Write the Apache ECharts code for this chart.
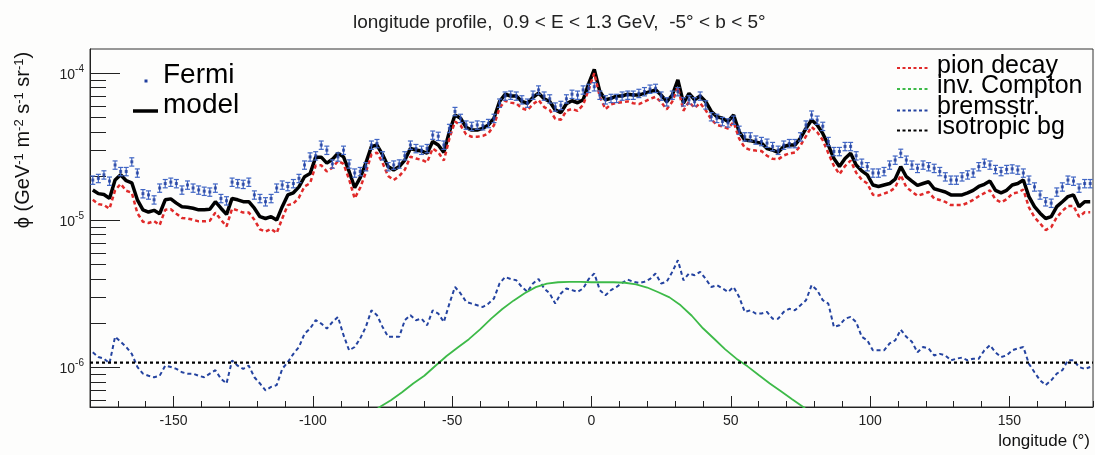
<!DOCTYPE html>
<html>
<head>
<meta charset="utf-8">
<script src="https://cdn.jsdelivr.net/npm/echarts@6.0.0/dist/echarts.min.js"></script>
<style>
  html, body { margin: 0; padding: 0; background: #fdfdfc; }
  #chart { width: 1095px; height: 455px; }
</style>
</head>
<body>
<div id="chart"></div>
<script>
// All intensities below are in units of 1e-6 GeV^-1 m^-2 s^-1 sr^-1.
const UNIT = 1e-6;

// Bin centres in galactic longitude (degrees)
const longitude = [
  -179,-177,-175,-173,-171,-169,-167,-165,-163,-161,
  -159,-157,-155,-153,-151,-149,-147,-145,-143,-141,
  -139,-137,-135,-133,-131,-129,-127,-125,-123,-121,
  -119,-117,-115,-113,-111,-109,-107,-105,-103,-101,
  -99,-97,-95,-93,-91,-89,-87,-85,-83,-81,
  -79,-77,-75,-73,-71,-69,-67,-65,-63,-61,
  -59,-57,-55,-53,-51,-49,-47,-45,-43,-41,
  -39,-37,-35,-33,-31,-29,-27,-25,-23,-21,
  -19,-17,-15,-13,-11,-9,-7,-5,-3,-1,
  1,3,5,7,9,11,13,15,17,19,
  21,23,25,27,29,31,33,35,37,39,
  41,43,45,47,49,51,53,55,57,59,
  61,63,65,67,69,71,73,75,77,79,
  81,83,85,87,89,91,93,95,97,99,
  101,103,105,107,109,111,113,115,117,119,
  121,123,125,127,129,131,133,135,137,139,
  141,143,145,147,149,151,153,155,157,159,
  161,163,165,167,169,171,173,175,177,179
];

// Fermi-LAT measured intensity
const fermi = [
  18.8,19.3,20.4,18.5,23.8,21.5,21.5,25.0,21.0,15.2,
  14.9,13.8,16.6,17.8,18.2,17.8,16.1,17.4,16.6,16.1,
  15.8,15.6,16.6,14.1,13.6,18.2,17.8,17.6,18.2,14.9,
  14.1,13.4,14.1,16.6,17.4,17.0,17.8,19.3,23.8,27.0,
  27.5,32.5,30.0,24.2,27.0,30.0,24.2,21.0,21.5,23.2,
  32.5,33.3,27.5,23.2,23.8,24.2,27.5,32.5,30.8,30.0,
  30.8,38.0,37.3,32.5,42.2,55.0,49.4,44.5,43.6,44.5,
  44.0,45.6,49.4,62.7,70.0,71.0,70.0,66.0,62.7,71.0,
  77.0,70.0,67.0,59.0,60.5,67.0,72.0,71.0,77.0,79.0,
  81.0,71.0,66.0,67.5,67.5,70.0,71.0,71.0,73.0,75.0,
  78.0,79.0,70.0,64.0,71.0,75.0,64.0,66.0,64.0,70.0,
  61.0,50.7,49.4,47.0,46.0,48.0,41.0,37.0,37.0,35.2,
  34.4,33.5,31.8,30.0,32.5,33.3,33.3,37.0,44.5,52.0,
  48.0,43.6,34.4,29.4,29.4,31.8,31.8,27.5,24.5,23.2,
  21.0,21.0,21.5,23.8,25.7,28.6,25.7,23.8,22.6,23.8,
  23.2,22.6,21.5,19.8,18.8,18.8,19.8,20.4,21.0,23.2,
  24.5,23.8,22.2,21.5,22.2,22.4,22.0,21.0,18.8,16.9,
  14.9,13.4,13.1,15.6,16.9,18.8,18.5,16.6,17.8,17.8
];
// relative size of the Fermi error bars
const fermiRelErr = 0.065;

// total model
const model = [
  16.1,15.2,15.0,14.1,18.8,20.4,18.6,18.0,13.8,11.8,
  11.4,11.7,11.1,13.8,14.0,13.1,12.4,12.3,12.1,11.8,
  11.8,11.9,13.4,12.1,11.0,14.1,13.8,13.4,13.4,12.1,
  10.6,10.3,10.6,10.05,12.4,14.9,15.4,16.9,19.8,20.8,
  26.9,26.9,24.5,26.0,28.6,27.0,21.5,16.7,19.5,24.5,
  31.7,32.5,28.0,23.2,22.0,23.2,25.7,30.8,30.1,29.6,
  28.6,34.4,32.5,29.0,40.0,52.0,49.4,42.8,41.1,41.1,
  42.2,44.5,49.4,64.2,71.9,70.0,70.0,64.2,62.5,68.5,
  73.2,67.0,64.2,56.3,54.0,62.0,65.0,63.0,66.0,85.0,
  106,75,66,67.5,70,70,72,71,71,73,
  75,77,71,64,71,90,62.7,73,66,70,
  64,55,50.7,49.4,47,52,40,35.2,34.8,34,
  33.5,30.8,30,29,31.8,32.5,32.5,36.2,42.2,48.1,
  44.5,39,32.5,26.3,23.2,26.3,28.6,23.8,21.7,20.4,
  17.4,17.0,17.4,17.8,19.1,23.2,19.8,18.5,17.3,17.8,
  18.3,16.4,16.0,15.6,14.9,14.9,14.9,15.4,16.0,17.0,
  17.6,18.5,16.0,15.4,16.0,17.4,17.8,18.8,14.5,12.4,
  11.2,10.3,10.6,12.4,13.4,14.5,14.9,12.4,13.4,13.4
];

// pion-decay component
const pionDecay = [
  13.8,12.9,12.7,12.0,16.0,17.7,15.9,15.4,11.2,9.8,
  9.6,9.9,9.3,11.8,11.9,11.1,10.4,10.3,10.1,9.85,
  9.85,9.95,11.3,10.1,9.1,12.0,11.7,11.3,11.3,10.1,
  8.7,8.4,8.75,8.2,10.3,12.7,13.0,14.3,17.0,17.9,
  23.6,23.7,21.5,22.8,25.3,24.2,19.0,14.1,16.7,21.2,
  28.0,28.9,24.6,20.0,18.8,20.0,22.1,27.1,26.3,25.8,
  24.8,30.8,29.0,25.5,36.0,47.0,44.3,38.4,37.0,37.0,
  37.5,39.0,44.3,58.0,65.0,63.1,62.3,57.7,56.1,61.5,
  65.7,58.9,56.2,49.0,48.3,55.6,57.1,55.5,60.9,77.5,
  100,69,57,61.5,62.8,63.5,64.3,62.5,61.7,64.2,
  66.8,69.1,63.5,56.8,64.1,80.5,55.6,64.0,58.0,62.6,
  56.0,48.4,44.5,43.5,42.1,46.6,35.9,31.2,30.1,29.8,
  29.6,27.5,26.2,26.0,27.6,28.5,28.9,32.2,37.4,43.2,
  39.8,35.1,28.6,23.5,20.6,23.4,25.5,21.1,18.9,17.8,
  14.95,14.75,15.2,15.7,16.7,20.3,16.8,15.7,14.7,15.1,
  15.6,14.1,13.75,13.35,12.7,12.7,12.7,13.15,13.8,14.6,
  15.3,16.0,13.9,13.25,13.9,15.2,15.5,16.2,12.25,10.5,
  9.55,8.6,9.0,10.5,11.6,12.5,12.55,10.6,11.35,11.35
];

// bremsstrahlung component
const bremsstrahlung = [
  1.27,1.18,1.15,1.07,1.62,1.50,1.38,1.24,1.01,0.91,
  0.88,0.86,0.88,1.03,1.01,0.98,0.93,0.91,0.91,0.88,
  0.86,0.91,0.96,0.84,0.78,1.12,1.03,0.98,1.03,0.86,
  0.78,0.70,0.74,0.76,0.98,1.09,1.24,1.38,1.70,1.84,
  2.10,1.99,1.84,2.04,2.21,1.66,1.31,1.38,1.58,1.89,
  2.45,2.27,1.89,1.62,1.62,1.62,2.10,2.27,2.10,2.15,
  1.94,2.45,2.33,2.04,2.72,3.53,3.19,2.80,2.72,2.65,
  2.58,2.72,2.95,3.73,4.13,4.00,3.92,3.53,3.27,3.73,
  4.00,3.45,3.19,2.72,3.19,3.45,3.36,3.27,3.45,4.00,
  4.36,3.36,3.10,3.36,3.53,3.76,3.96,3.83,3.76,3.83,
  4.00,4.36,3.73,3.83,4.47,5.37,3.92,4.36,4.24,4.47,
  4.00,3.53,3.63,3.45,3.27,3.53,3.02,2.39,2.45,2.33,
  2.33,2.39,2.15,2.15,2.39,2.51,2.45,2.65,2.87,3.63,
  3.36,2.87,2.72,1.89,1.94,2.15,2.21,2.04,1.62,1.53,
  1.31,1.31,1.31,1.46,1.53,1.81,1.62,1.50,1.27,1.38,
  1.35,1.21,1.24,1.21,1.12,1.15,1.17,1.12,1.15,1.15,
  1.31,1.42,1.27,1.18,1.21,1.31,1.35,1.38,1.06,0.93,
  0.82,0.76,0.82,0.91,0.96,1.12,1.12,1.01,0.98,1.01
];

// inverse-Compton component (smooth, sampled every 4 degrees)
const icLongitude = [
  -84,-80,-76,-72,-68,-64,-60,-56,-52,-48,-44,-40,-36,-32,-28,-24,-20,-16,-12,-8,-4,
  0,4,8,12,16,20,24,28,32,36,40,44,48,52,56,60,64,68,72,76,80,84
];
const inverseCompton = [
  0.41,0.47,0.54,0.60,0.68,0.78,0.88,1.03,1.20,1.37,1.56,1.82,2.15,2.50,2.85,3.20,3.52,3.72,3.80,3.82,3.82,
  3.80,3.80,3.80,3.77,3.68,3.50,3.25,3.00,2.65,2.25,1.85,1.57,1.33,1.15,1.02,0.89,0.78,0.69,0.61,0.54,0.47,0.41
];

// isotropic background level
const isotropic = 1.08;

// axis ranges and ticks
const xRange = [-180, 180];
const yRange = [5.4e-7, 1.46e-4];
const xMajorTicks = [-150, -100, -50, 0, 50, 100, 150];
const yMajorTicks = [1e-6, 1e-5, 1e-4];
const yMinorTicks = [6e-7, 7e-7, 8e-7, 9e-7,
  2e-6, 3e-6, 4e-6, 5e-6, 6e-6, 7e-6, 8e-6, 9e-6,
  2e-5, 3e-5, 4e-5, 5e-5, 6e-5, 7e-5, 8e-5, 9e-5];

const FONT = '"Liberation Sans", Arial, Helvetica, sans-serif';
const AXIS_COLOR = '#222';
const C_FERMI = '#1f3d9e';
const C_FERMI_ERR = '#4166c4';
const C_PION = '#e02a2a';
const C_IC = '#3dba48';
const C_BREMS = '#2443a0';

const toPairs = (xs, ys) => xs.map((x, i) => [x, ys[i] * UNIT]);

const chart = echarts.init(document.getElementById('chart'), null, { renderer: 'canvas' });

// vertical error bar with small end caps
function errorBar(params, api) {
  const x = api.value(0), v = api.value(1), e = api.value(2);
  const top = api.coord([x, v + e]);
  const bot = api.coord([x, v - e]);
  const cap = 2.5;
  const style = { stroke: C_FERMI_ERR, lineWidth: 1.2 };
  return {
    type: 'group',
    children: [
      { type: 'line', shape: { x1: top[0], y1: top[1], x2: bot[0], y2: bot[1] }, style },
      { type: 'line', shape: { x1: top[0] - cap, y1: top[1], x2: top[0] + cap, y2: top[1] }, style },
      { type: 'line', shape: { x1: bot[0] - cap, y1: bot[1], x2: bot[0] + cap, y2: bot[1] }, style }
    ]
  };
}

const legendRows = [
  { label: 'pion decay', color: C_PION, y: 68, textY: 66 },
  { label: 'inv. Compton', color: C_IC, y: 89, textY: 86.5 },
  { label: 'bremsstr.', color: C_BREMS, y: 110.5, textY: 107 },
  { label: 'isotropic bg', color: '#000', y: 130.5, textY: 127.5 }
];

const graphics = [
  // y-axis title
  {
    type: 'text', x: 23, y: 140, rotation: Math.PI / 2,
    style: {
      text: 'ϕ (GeV{s|-1} m{s|-2} s{s|-1} sr{s|-1})',
      font: '20px ' + FONT, fill: '#111', align: 'center', verticalAlign: 'middle',
      rich: { s: { fontSize: 13, fontFamily: FONT, verticalAlign: 'top', lineHeight: 13 } }
    }
  },
  // x-axis title
  {
    type: 'text', x: 1090, y: 441,
    style: { text: 'longitude (°)', font: '17px ' + FONT, fill: '#111', align: 'right', verticalAlign: 'middle' }
  },
  // upper-left legend
  { type: 'rect', shape: { x: 144.5, y: 79.5, width: 3, height: 3 }, style: { fill: C_FERMI }, z: 20 },
  { type: 'text', x: 163, y: 75, style: { text: 'Fermi', font: '28px ' + FONT, fill: '#000', verticalAlign: 'middle' }, z: 20 },
  { type: 'line', shape: { x1: 133, y1: 111, x2: 158, y2: 111 }, style: { stroke: '#000', lineWidth: 3.5 }, z: 20 },
  { type: 'text', x: 163, y: 105.5, style: { text: 'model', font: '28px ' + FONT, fill: '#000', verticalAlign: 'middle' }, z: 20 }
];
legendRows.forEach(r => {
  graphics.push({ type: 'line', shape: { x1: 897, y1: r.y, x2: 930, y2: r.y },
    style: { stroke: r.color, lineWidth: 2.2, lineDash: [3, 2.5] }, z: 20 });
  graphics.push({ type: 'text', x: 937, y: r.textY,
    style: { text: r.label, font: '25px ' + FONT, fill: '#000', verticalAlign: 'middle' }, z: 20 });
});

const option = {
  backgroundColor: '#fdfdfc',
  animation: false,
  title: {
    text: 'longitude profile,  0.9 < E < 1.3 GeV,  -5° < b < 5°',
    left: 348, top: 8,
    textStyle: { fontFamily: FONT, fontSize: 19, fontWeight: 'normal', color: '#222' }
  },
  grid: {
    left: 90, right: 2, top: 49, bottom: 48, containLabel: false,
    show: true, borderColor: '#333', borderWidth: 1, backgroundColor: 'transparent'
  },
  xAxis: [
    {
      type: 'value', min: xRange[0], max: xRange[1], position: 'bottom',
      axisLine: { show: true, onZero: false, lineStyle: { color: AXIS_COLOR, width: 1 } },
      axisTick: { show: true, inside: true, length: 11, customValues: xMajorTicks, lineStyle: { color: AXIS_COLOR } },
      axisLabel: { show: true, customValues: xMajorTicks, margin: 7, fontFamily: FONT, fontSize: 14, color: '#222' },
      splitLine: { show: false }
    },
    {
      type: 'value', min: xRange[0], max: xRange[1], interval: 10, position: 'bottom',
      axisLine: { show: false, onZero: false },
      axisTick: { show: true, inside: true, length: 6, lineStyle: { color: AXIS_COLOR } },
      axisLabel: { show: false },
      splitLine: { show: false }
    }
  ],
  yAxis: [
    {
      type: 'log', logBase: 10, min: yRange[0], max: yRange[1], position: 'left',
      axisLine: { show: true, onZero: false, lineStyle: { color: AXIS_COLOR, width: 1 } },
      axisTick: { show: true, inside: true, length: 30, customValues: yMajorTicks, lineStyle: { color: AXIS_COLOR } },
      axisLabel: {
        show: true, customValues: yMajorTicks, margin: 6,
        formatter: v => '{b|10}{s|' + Math.round(Math.log10(v)) + '}',
        rich: {
          b: { fontFamily: FONT, fontSize: 14, color: '#222', lineHeight: 18, verticalAlign: 'bottom' },
          s: { fontFamily: FONT, fontSize: 10, color: '#222', lineHeight: 10, verticalAlign: 'top' }
        }
      },
      splitLine: { show: false }
    },
    {
      type: 'log', logBase: 10, min: yRange[0], max: yRange[1], position: 'left',
      axisLine: { show: false, onZero: false },
      axisTick: { show: true, inside: true, length: 16, customValues: yMinorTicks, lineStyle: { color: AXIS_COLOR } },
      axisLabel: { show: false },
      splitLine: { show: false }
    }
  ],
  series: [
    {
      name: 'model', type: 'line', data: toPairs(longitude, model),
      showSymbol: false, symbol: 'none', lineStyle: { color: '#000', width: 3.5 }, z: 3
    },
    {
      name: 'pion decay', type: 'line', data: toPairs(longitude, pionDecay),
      showSymbol: false, symbol: 'none', lineStyle: { color: C_PION, width: 2.5, type: [4, 3] }, z: 4
    },
    {
      name: 'bremsstr.', type: 'line', data: toPairs(longitude, bremsstrahlung),
      showSymbol: false, symbol: 'none', lineStyle: { color: C_BREMS, width: 2, type: [4, 3] }, z: 4
    },
    {
      name: 'inv. Compton', type: 'line', data: toPairs(icLongitude, inverseCompton),
      showSymbol: false, symbol: 'none', lineStyle: { color: C_IC, width: 1.8 }, z: 4
    },
    {
      name: 'isotropic bg', type: 'line', data: [[xRange[0], isotropic * UNIT], [xRange[1], isotropic * UNIT]],
      showSymbol: false, symbol: 'none', lineStyle: { color: '#000', width: 2.2, type: [3, 3] }, z: 4
    },
    {
      name: 'Fermi error', type: 'custom', renderItem: errorBar, clip: true,
      data: longitude.map((x, i) => [x, fermi[i] * UNIT, fermi[i] * UNIT * fermiRelErr]),
      encode: { x: 0, y: 1 }, z: 5
    },
    {
      name: 'Fermi', type: 'scatter', data: toPairs(longitude, fermi),
      symbol: 'rect', symbolSize: 3, itemStyle: { color: C_FERMI }, z: 6
    }
  ],
  graphic: graphics
};

chart.setOption(option);
</script>
</body>
</html>
